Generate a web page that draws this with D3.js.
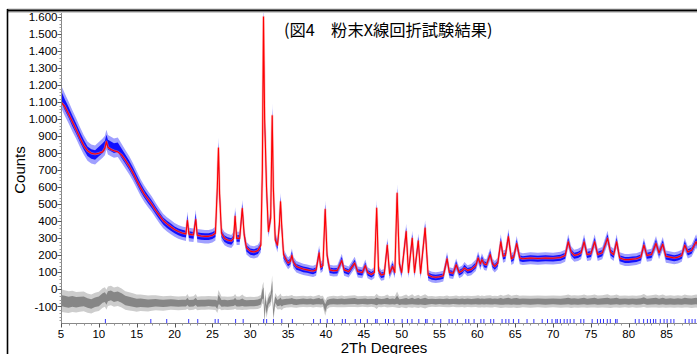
<!DOCTYPE html>
<html>
<head>
<meta charset="utf-8">
<script src="https://cdn.jsdelivr.net/npm/d3@7"></script>
<style>
  body { margin: 0; background: #fff; }
  svg { display: block; }
</style>
</head>
<body>
<div id="chart"></div>
<script>
const chartTitle = '(図4\u3000粉末X線回折試験結果)';
const xTitle = '2Th Degrees';
const yTitle = 'Counts';

const xTicks = [5, 10, 15, 20, 25, 30, 35, 40, 45, 50, 55, 60, 65, 70, 75, 80, 85];
const yTicks = [-100, 0, 100, 200, 300, 400, 500, 600, 700, 800, 900, 1000, 1100, 1200, 1300, 1400, 1500, 1600];

// 2theta grid
const twoTheta = [
  5.0, 5.5, 6.0, 6.5, 7.0, 7.5, 8.0, 8.5, 9.0, 9.5,
  10.0, 10.5, 10.8, 11.0, 11.2, 11.6, 12.0, 12.5, 13.0, 13.5,
  14.0, 14.5, 15.0, 15.5, 16.0, 16.5, 17.0, 17.5, 18.0, 18.5,
  19.0, 19.5, 20.0, 20.5, 21.0, 21.5, 21.7, 21.9, 22.5, 22.8,
  23.0, 23.5, 24.0, 24.5, 25.0, 25.4, 25.65, 25.8, 25.95, 26.2,
  26.6, 27.0, 27.5, 27.8, 28.0, 28.2, 28.6, 28.95, 29.2, 29.5,
  30.0, 30.5, 31.0, 31.4, 31.6, 31.75, 31.9, 32.0, 32.15, 32.4,
  32.7, 32.9, 33.05, 33.3, 33.6, 33.85, 34.0, 34.15, 34.4, 34.8,
  35.0, 35.3, 35.5, 35.7, 36.1, 36.5, 37.0, 37.5, 38.0, 38.3,
  38.7, 39.1, 39.3, 39.6, 39.9, 40.15, 40.5, 41.0, 41.5, 42.1,
  42.4, 43.0, 43.8, 44.2, 44.8, 45.2, 45.5, 46.0, 46.4, 46.7,
  46.95, 47.3, 47.7, 48.1, 48.4, 48.8, 49.1, 49.4, 49.7, 50.0,
  50.6, 50.9, 51.4, 51.7, 52.2, 52.5, 53.1, 53.5, 54.0, 54.5,
  55.0, 55.5, 56.0, 56.3, 56.8, 57.2, 57.6, 58.0, 58.3, 58.7,
  59.2, 59.8, 60.1, 60.4, 60.6, 60.9, 61.2, 61.7, 62.0, 62.3,
  62.7, 63.1, 63.4, 63.7, 64.1, 64.5, 64.8, 65.2, 65.6, 66.0,
  67.0, 68.0, 69.0, 70.0, 71.0, 71.6, 72.0, 72.4, 72.8, 73.3,
  73.7, 74.1, 74.5, 75.0, 75.5, 75.9, 76.5, 77.2, 77.6, 78.0,
  78.4, 78.8, 79.5, 80.0, 80.5, 81.0, 81.6, 82.0, 82.4, 83.0,
  83.6, 84.0, 84.5, 84.9, 85.5, 86.0, 86.5, 87.0, 87.4, 87.8,
  88.3, 88.9, 89.2, 89.6
];

// observed counts (blue)
const observed = [
  1135, 1085, 1040, 990, 945, 895, 850, 812, 795, 790,
  810, 830, 845, 880, 850, 840, 830, 835, 800, 765,
  730, 690, 645, 600, 562, 530, 500, 465, 432, 402,
  382, 366, 350, 338, 330, 325, 415, 322, 318, 425,
  316, 312, 310, 310, 316, 328, 590, 835, 570, 326,
  298, 288, 282, 300, 440, 300, 300, 480, 320, 242,
  222, 218, 226, 255, 720, 1610, 980, 860, 580, 345,
  430, 1030, 580, 300, 255, 385, 520, 375, 200, 168,
  153, 166, 205, 158, 133, 126, 118, 114, 108, 106,
  114, 222, 128, 142, 478, 195, 113, 108, 110, 175,
  113, 103, 158, 103, 98, 142, 98, 86, 100, 480,
  108, 83, 88, 265, 93, 138, 98, 570, 148, 98,
  345, 98, 305, 98, 290, 93, 365, 83, 73, 70,
  73, 78, 185, 98, 93, 148, 98, 108, 128, 110,
  116, 142, 188, 148, 178, 148, 143, 208, 148, 133,
  153, 285, 193, 198, 315, 178, 188, 275, 183, 178,
  183, 180, 183, 181, 186, 198, 285, 218, 198, 203,
  213, 285, 203, 208, 285, 203, 213, 305, 218, 203,
  285, 183, 173, 173, 176, 178, 188, 265, 198, 203,
  275, 213, 270, 193, 188, 183, 188, 198, 265, 218,
  228, 285, 248, 238
];

// calculated profile (red)
const calculated = [
  1100, 1075, 1030, 985, 940, 890, 845, 815, 800, 795,
  800, 808, 830, 868, 835, 822, 815, 808, 790, 760,
  725, 685, 640, 598, 560, 530, 500, 465, 435, 405,
  385, 368, 352, 340, 332, 326, 405, 325, 320, 410,
  318, 314, 312, 312, 318, 330, 600, 830, 560, 330,
  300, 290, 285, 300, 430, 300, 300, 475, 320, 245,
  225, 220, 228, 260, 700, 1600, 1000, 850, 600, 340,
  420, 1020, 600, 290, 260, 380, 515, 380, 205, 170,
  155, 165, 200, 160, 135, 128, 120, 115, 110, 108,
  115, 215, 130, 140, 470, 200, 115, 110, 112, 170,
  115, 105, 155, 105, 100, 140, 100, 88, 100, 477,
  110, 85, 90, 260, 95, 135, 100, 565, 150, 100,
  340, 100, 300, 100, 285, 95, 360, 85, 75, 72,
  75, 80, 180, 100, 95, 145, 100, 110, 125, 112,
  118, 140, 185, 150, 175, 150, 145, 205, 150, 135,
  155, 280, 195, 200, 310, 180, 190, 270, 185, 180,
  185, 182, 185, 183, 188, 200, 280, 220, 200, 205,
  215, 280, 205, 210, 280, 205, 215, 300, 220, 205,
  280, 185, 175, 175, 178, 180, 190, 260, 200, 205,
  270, 215, 265, 195, 190, 185, 190, 200, 260, 220,
  230, 280, 250, 240
];

// difference curve (grey), already offset
const difference = [
  -65, -70, -75, -70, -75, -72, -70, -80, -85, -75,
  -70, -50, -45, -60, -40, -35, -45, -40, -50, -65,
  -70, -75, -80, -78, -80, -82, -80, -78, -80, -82,
  -80, -78, -80, -82, -80, -80, -70, -82, -80, -70,
  -82, -80, -80, -78, -80, -80, -90, -60, -65, -82,
  -80, -82, -80, -78, -70, -80, -80, -75, -80, -82,
  -80, -80, -78, -70, -30, -20, -150, -60, -120, -70,
  -50, 20, -140, -60, -80, -75, -70, -80, -75, -72,
  -72, -70, -68, -72, -74, -72, -70, -72, -70, -74,
  -70, -68, -72, -70, -110, -80, -72, -70, -72, -70,
  -72, -70, -68, -72, -70, -70, -72, -70, -72, -70,
  -70, -72, -70, -68, -72, -70, -72, -60, -75, -72,
  -70, -72, -68, -72, -70, -72, -70, -72, -70, -72,
  -70, -72, -70, -72, -70, -70, -72, -70, -72, -70,
  -72, -70, -70, -72, -70, -72, -70, -70, -72, -70,
  -72, -70, -72, -70, -68, -72, -70, -70, -72, -70,
  -72, -70, -72, -70, -72, -70, -68, -72, -70, -72,
  -70, -68, -72, -70, -68, -72, -70, -68, -72, -70,
  -68, -72, -70, -72, -70, -72, -70, -65, -72, -70,
  -68, -72, -68, -72, -70, -72, -70, -72, -68, -70,
  -72, -68, -72, -70
];

// reflection positions (blue tick marks)
const reflections = [
  10.8, 16.8, 18.9, 21.8, 23.0, 25.3, 25.7, 28.0, 29.0, 31.7, 32.1, 33.0, 34.1, 35.5,
  38.3, 39.2, 40.1, 40.8, 42.1, 42.5, 43.8, 44.5, 45.4, 46.5, 46.7, 47.8, 48.2, 48.9,
  50.0, 50.7, 51.3, 52.2, 53.1, 53.3, 54.2, 55.1, 56.2, 56.6, 57.3, 58.4, 58.8, 59.5,
  60.4, 60.8, 61.7, 62.1, 63.2, 63.7, 64.1, 64.7, 65.4, 66.5, 67.4, 68.5, 69.2, 69.8,
  70.3, 70.5, 70.9, 71.4, 71.8, 72.2, 72.7, 73.6, 74.0, 75.1, 75.8, 76.2, 76.6, 77.1,
  77.5, 78.2, 78.4, 80.8, 81.3, 81.9, 82.4, 82.8, 83.2, 83.5, 84.1, 84.6, 85.0, 85.5,
  85.9, 87.4, 87.9, 88.3, 88.7
];

const width = 697;
const height = 354;
const plotLeft = 61, plotBottom = 323;

const svg = d3.select('#chart')
  .append('svg')
  .attr('width', width)
  .attr('height', height);

const x = d3.scaleLinear().domain([5, 90]).range([plotLeft, plotLeft + 85 * 7.57]);
const y = d3.scaleLinear().domain([-197, 1640]).range([plotBottom, 10.2]);

const locale = d3.formatLocale({ decimal: ',', thousands: '.', grouping: [3], currency: ['', ''], minus: '-' });
const fmt = locale.format(',d');

// frame around the picture
svg.append('line').attr('x1', 7).attr('x2', width).attr('y1', 9).attr('y2', 9).attr('stroke', '#bbb');
svg.append('line').attr('x1', 7).attr('x2', width).attr('y1', 10.5).attr('y2', 10.5).attr('stroke', '#000').attr('stroke-width', 2);
svg.append('line').attr('x1', 8).attr('x2', width).attr('y1', 12.5).attr('y2', 12.5).attr('stroke', '#ccc');
svg.append('line').attr('x1', 7.5).attr('x2', 7.5).attr('y1', 9).attr('y2', height).attr('stroke', '#000').attr('stroke-width', 1.6);

svg.append('defs').append('clipPath').attr('id', 'plot')
  .append('rect').attr('x', plotLeft + 1).attr('y', 13).attr('width', width - plotLeft).attr('height', plotBottom - 13);

const pts = twoTheta.map((t, i) => ({ t, obs: observed[i], calc: calculated[i], diff: difference[i] }));

const plot = svg.append('g').attr('clip-path', 'url(#plot)');

// scatter of the counts is drawn as a vertical band around each curve
const spread = c => 2.6 + 0.003 * Math.min(c, 1100);
const band = (key, k) => d3.area()
  .x(d => x(d.t))
  .y0(d => y(d[key]) + k * spread(d.obs))
  .y1(d => y(d[key]) - k * spread(d.obs));

// difference: light band + darker core
plot.append('path').datum(pts).attr('d', band('diff', 1.9)).attr('fill', '#cdcdcd');
plot.append('path').datum(pts).attr('d', band('diff', 0.95)).attr('fill', '#868686');

// observed: light blue band + blue core
plot.append('path').datum(pts).attr('d', band('obs', 1.9)).attr('fill', '#a0a0ff');
plot.append('path').datum(pts).attr('d', band('obs', 0.95)).attr('fill', '#1010ff');

// calculated
const calcLine = d3.line().x(d => x(d.t)).y(d => y(d.calc));
plot.append('path').datum(pts).attr('d', calcLine)
  .attr('fill', 'none').attr('stroke', '#ff8080').attr('stroke-width', 2.4).attr('stroke-opacity', 0.55)
  .attr('stroke-linejoin', 'round');
plot.append('path').datum(pts).attr('d', calcLine)
  .attr('fill', 'none').attr('stroke', '#ff0000').attr('stroke-width', 1.1).attr('stroke-linejoin', 'round');

// reflection ticks
plot.append('g').selectAll('line').data(reflections).enter().append('line')
  .attr('x1', d => x(d) + 0.5).attr('x2', d => x(d) + 0.5)
  .attr('y1', plotBottom - 4).attr('y2', plotBottom)
  .attr('stroke', '#3333ff').attr('stroke-width', 1);

// y axis
const yAxis = svg.append('g').attr('transform', `translate(${plotLeft + 0.5},0)`);
yAxis.append('line').attr('y1', 13).attr('y2', plotBottom).attr('stroke', '#888');
yAxis.selectAll('.minor').data(d3.range(-180, 1640, 20)).enter().append('line')
  .attr('x1', -2).attr('x2', 0)
  .attr('y1', d => Math.round(y(d)) + 0.5).attr('y2', d => Math.round(y(d)) + 0.5)
  .attr('stroke', '#999');
yAxis.selectAll('.major').data(yTicks).enter().append('line')
  .attr('x1', -4).attr('x2', 0)
  .attr('y1', d => Math.round(y(d)) + 0.5).attr('y2', d => Math.round(y(d)) + 0.5)
  .attr('stroke', '#555');
yAxis.selectAll('text').data(yTicks).enter().append('text')
  .attr('x', -4).attr('y', d => y(d)).attr('dy', '0.35em')
  .attr('text-anchor', 'end')
  .attr('font-family', 'Liberation Sans, Arial, sans-serif').attr('font-size', 11.5)
  .attr('fill', '#000')
  .text(d => fmt(d));

// x axis
const xAxis = svg.append('g').attr('transform', `translate(0,${plotBottom + 0.5})`);
xAxis.append('line').attr('x1', plotLeft).attr('x2', width).attr('stroke', '#888');
xAxis.selectAll('.minor').data(d3.range(5, 90, 1)).enter().append('line')
  .attr('x1', d => Math.round(x(d)) + 0.5).attr('x2', d => Math.round(x(d)) + 0.5)
  .attr('y1', 0).attr('y2', 2).attr('stroke', '#999');
xAxis.selectAll('.major').data(xTicks).enter().append('line')
  .attr('x1', d => Math.round(x(d)) + 0.5).attr('x2', d => Math.round(x(d)) + 0.5)
  .attr('y1', 0).attr('y2', 4).attr('stroke', '#555');
xAxis.selectAll('text').data(xTicks).enter().append('text')
  .attr('x', d => x(d)).attr('y', 14)
  .attr('text-anchor', 'middle')
  .attr('font-family', 'Liberation Sans, Arial, sans-serif').attr('font-size', 11.5)
  .attr('fill', '#000')
  .text(d => d);

// titles
svg.append('text')
  .attr('x', 384).attr('y', 353)
  .attr('text-anchor', 'middle')
  .attr('font-family', 'Liberation Sans, Arial, sans-serif').attr('font-size', 15)
  .text(xTitle);

svg.append('text')
  .attr('transform', 'translate(25,170) rotate(-90)')
  .attr('text-anchor', 'middle')
  .attr('font-family', 'Liberation Sans, Arial, sans-serif').attr('font-size', 15)
  .text(yTitle);

svg.append('text')
  .attr('x', 284).attr('y', 36)
  .attr('font-family', 'Noto Sans CJK JP, sans-serif').attr('font-size', 16.3)
  .attr('fill', '#000')
  .text(chartTitle);
</script>
</body>
</html>
